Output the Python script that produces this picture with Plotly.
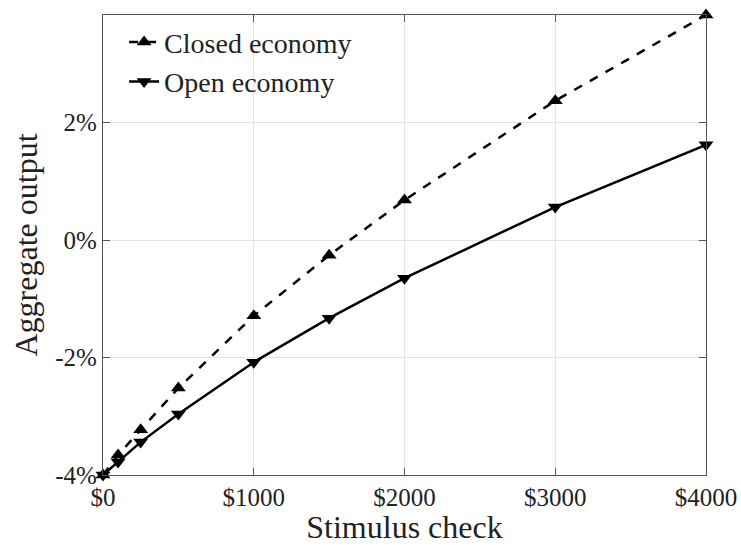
import plotly.graph_objects as go

stimulus = [0, 100, 250, 500, 1000, 1500, 2000, 3000, 4000]
closed_economy = [-4.0, -3.66, -3.23, -2.52, -1.29, -0.26, 0.68, 2.37, 3.83]
open_economy = [-4.0, -3.78, -3.44, -2.96, -2.08, -1.33, -0.65, 0.56, 1.62]
x_ticks = [0, 1000, 2000, 3000, 4000]
x_tick_labels = ["$0", "$1000", "$2000", "$3000", "$4000"]
y_ticks = [-4, -2, 0, 2]
y_tick_labels = ["-4%", "-2%", "0%", "2%"]

font = "Liberation Serif"

fig = go.Figure()
fig.add_trace(go.Scatter(
    x=stimulus, y=closed_economy, mode="lines+markers", name="Closed economy",
    line=dict(color="black", width=2.5, dash="dash"),
    marker=dict(symbol="triangle-up", size=13, color="black"),
    cliponaxis=False,
))
fig.add_trace(go.Scatter(
    x=stimulus, y=open_economy, mode="lines+markers", name="Open economy",
    line=dict(color="black", width=2.5),
    marker=dict(symbol="triangle-down", size=13, color="black"),
    cliponaxis=False,
))

axis_common = dict(
    showline=True, linecolor="#555", linewidth=1.2, mirror="ticks",
    ticks="inside", ticklen=7, tickcolor="#555",
    showgrid=True, gridcolor="#e3e3e3", gridwidth=1, zeroline=False,
    tickfont=dict(family=font, size=25, color="#222"),
    automargin=False,
)

fig.update_layout(
    width=741, height=545,
    margin=dict(l=103, r=35, t=15, b=70),
    plot_bgcolor="white", paper_bgcolor="white",
    font=dict(family=font, color="#222"),
    xaxis=dict(range=[0, 4000], tickvals=x_ticks, ticktext=x_tick_labels,
               title=dict(text="Stimulus check", font=dict(family=font, size=32, color="#222"), standoff=4),
               **axis_common),
    yaxis=dict(range=[-4, 3.83], tickvals=y_ticks, ticktext=y_tick_labels,
               title=dict(text="Aggregate output", font=dict(family=font, size=32, color="#222"), standoff=8),
               **axis_common),
    legend=dict(x=0.035, y=0.995, xanchor="left", yanchor="top",
                bgcolor="rgba(255,255,255,0)", font=dict(family=font, size=28, color="#222"),
                itemwidth=30, tracegroupgap=0),
    showlegend=True,
)

fig.write_html("out.html", config={"displayModeBar": False},
               post_script="document.body.style.margin='0px';")
